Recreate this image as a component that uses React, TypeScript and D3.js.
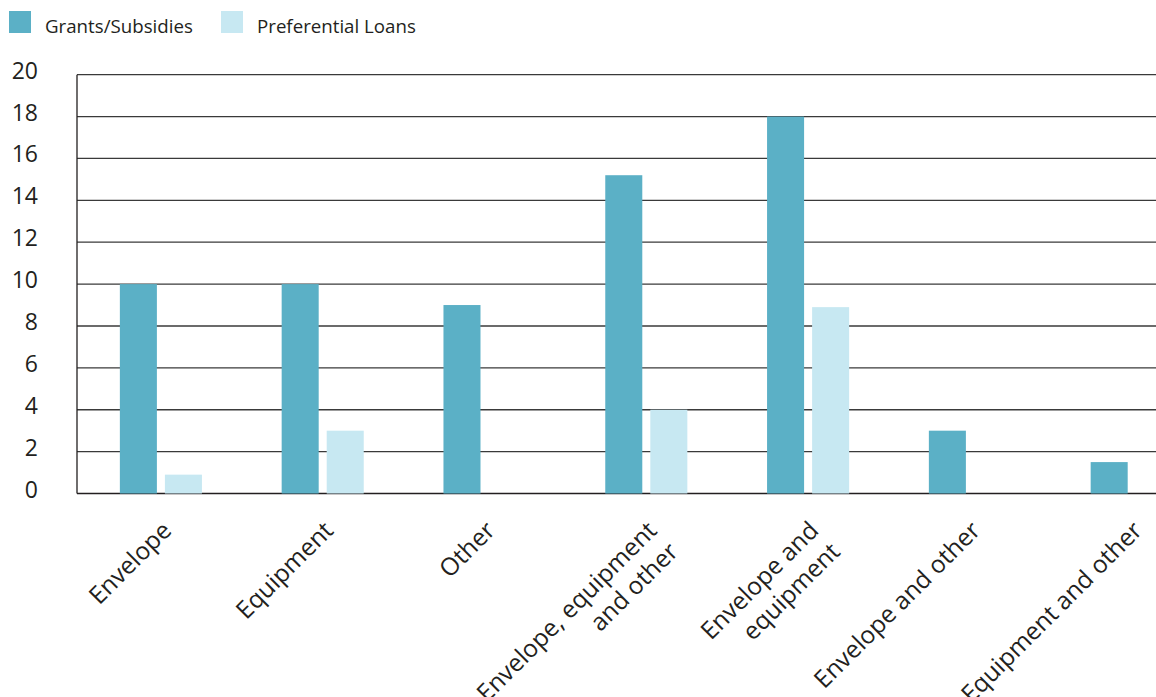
import React from "react";
import * as d3 from "d3";

const categories = [
  "Envelope",
  "Equipment",
  "Other",
  "Envelope, equipment and other",
  "Envelope and equipment",
  "Envelope and other",
  "Equipment and other",
];
const labelLines = [
  ["Envelope"],
  ["Equipment"],
  ["Other"],
  ["Envelope, equipment", "and other"],
  ["Envelope and", "equipment"],
  ["Envelope and other"],
  ["Equipment and other"],
];
const seriesNames = ["Grants/Subsidies", "Preferential Loans"];
const grants = [10, 10, 9, 15.2, 18, 3, 1.5];
const loans = [0.9, 3, 0, 4, 8.9, 0, 0];
const yTicks = [0, 2, 4, 6, 8, 10, 12, 14, 16, 18, 20];

const W = 1156;
const H = 697;
const FONT = "'Open Sans', 'Noto Sans', sans-serif";
const COLORS = ["#5bb0c6", "#c7e8f2"];

export default function App() {
  const y = d3.scaleLinear().domain([0, 20]).range([493.5, 74.7]);
  const x = d3
    .scaleBand<string>()
    .domain(categories)
    .range([80, 80 + 7 * 161.8])
    .padding(0);
  const x1 = d3
    .scaleBand<string>()
    .domain(seriesNames)
    .range([0, x.bandwidth()])
    .paddingInner(0.178)
    .paddingOuter(0.885);
  const axisX = 77;
  const seriesData = [grants, loans];

  return (
    <svg
      width={W}
      height={H}
      style={{ position: "fixed", left: 0, top: 0, background: "#fff" }}
      fontFamily={FONT}
    >
      {/* legend */}
      {seriesNames.map((s, i) => {
        const lx = i === 0 ? 9 : 221;
        return (
          <g key={s}>
            <rect x={lx} y={11} width={22} height={22} fill={COLORS[i]} />
            <text x={lx + 36} y={33} fontSize={18.7} fill="#231f20">
              {s}
            </text>
          </g>
        );
      })}

      {/* gridlines */}
      {yTicks.map((t) => (
        <line
          key={t}
          x1={axisX}
          x2={W}
          y1={y(t)}
          y2={y(t)}
          stroke={t === 0 ? "#231f20" : "#3a3a3a"}
          strokeWidth={t === 0 ? 1.5 : 1.3}
        />
      ))}
      <line x1={axisX} x2={axisX} y1={y(20)} y2={y(0)} stroke="#231f20" strokeWidth={1.3} />

      {/* y tick labels */}
      {yTicks.map((t) => (
        <text
          key={t}
          x={38}
          y={y(t) + 4}
          fontSize={23}
          textAnchor="end"
          fill="#231f20"
        >
          {t}
        </text>
      ))}

      {/* bars */}
      {categories.map((c, ci) => (
        <g key={c} transform={`translate(${x(c)},0)`}>
          {seriesNames.map((s, si) => {
            const v = seriesData[si][ci];
            if (!v) return null;
            return (
              <rect
                key={s}
                x={x1(s)}
                y={y(v)}
                width={x1.bandwidth()}
                height={y(0) - y(v)}
                fill={COLORS[si]}
              />
            );
          })}
        </g>
      ))}

      {/* x labels */}
      {categories.map((c, ci) => {
        const cx = (x(c) as number) + x.bandwidth() / 2 + 12;
        return (
          <text
            key={c}
            transform={`translate(${cx},532) rotate(-45)`}
            fontSize={24.5}
            textAnchor="end"
            fill="#231f20"
          >
            {labelLines[ci].map((ln, li) => (
              <tspan key={li} x={0} dy={li === 0 ? 0 : 30}>
                {ln}
              </tspan>
            ))}
          </text>
        );
      })}
    </svg>
  );
}
